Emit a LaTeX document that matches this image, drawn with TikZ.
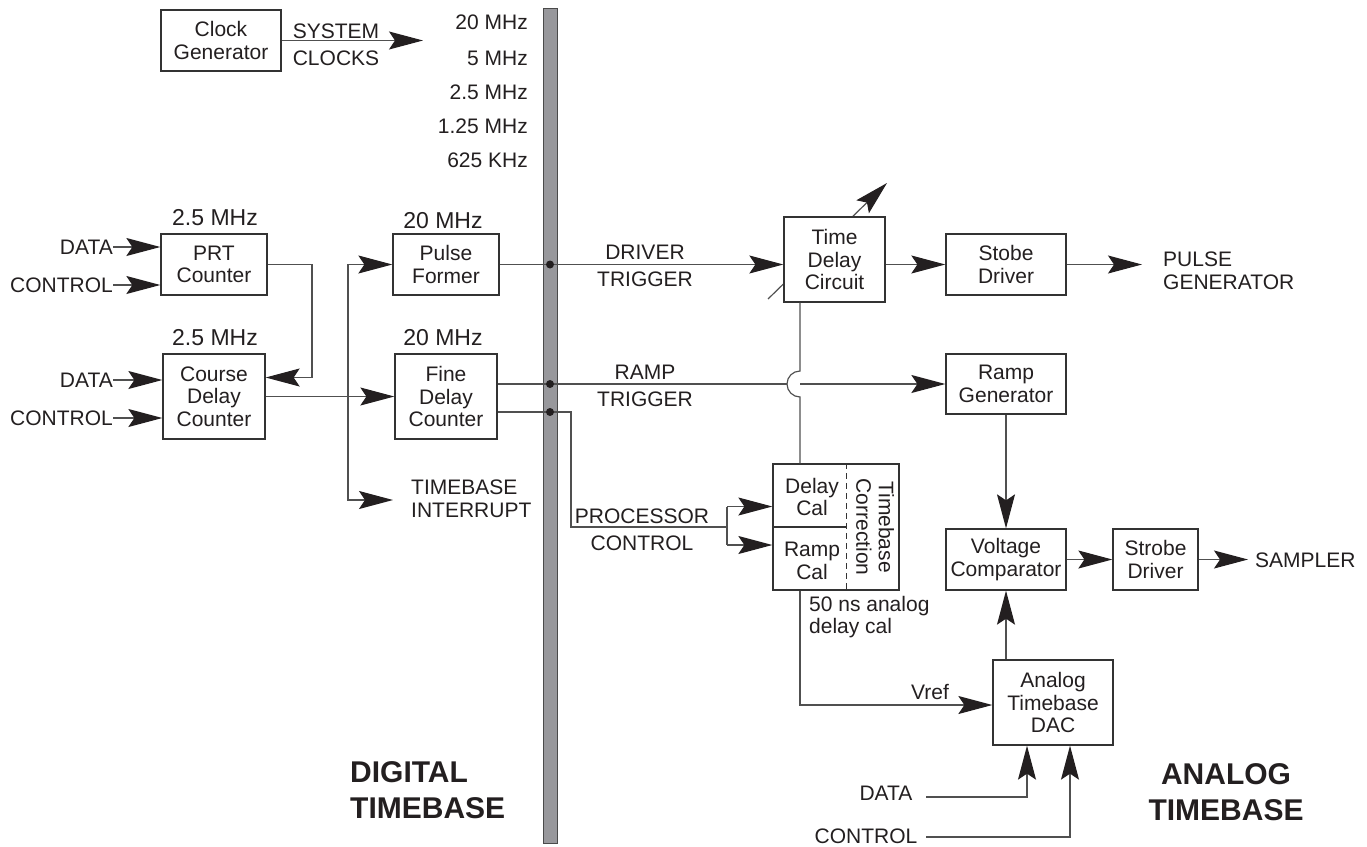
\documentclass[tikz,border=0pt]{standalone}
\usepackage{fontspec}
\setmainfont{Liberation Sans}
\usetikzlibrary{arrows.meta,calc}
\definecolor{linec}{HTML}{505050}
\definecolor{boxc}{HTML}{333333}
\definecolor{txtc}{HTML}{231F20}
\definecolor{barc}{HTML}{98989C}
\definecolor{barline}{HTML}{4A4A4A}
\newcommand{\fnorm}{\fontsize{21}{22.5}\selectfont}
\newcommand{\fbigl}{\fontsize{23}{26}\selectfont}
\newcommand{\fboldl}{\fontsize{30}{36.5}\selectfont\bfseries}
\begin{document}
\begin{tikzpicture}[x=1pt,y=-1pt,
  line/.style={draw=linec, line width=1.2pt},
  arr/.style={line, -{Stealth[length=34pt,width=18pt,inset=6pt,color=txtc]}},
  blk/.style={draw=boxc, line width=1.3pt, fill=white, align=center, inner sep=0pt, font=\fnorm, text=txtc},
  lbl/.style={align=center, inner sep=0pt, font=\fnorm, text=txtc},
  biglbl/.style={align=center, inner sep=0pt, font=\fbigl, text=txtc},
  boldlbl/.style={inner sep=0pt, font=\fboldl, text=txtc},
  jdot/.style={fill=txtc}
]
\useasboundingbox (0,0) rectangle (1367,846);

% bus bar
\node[draw=barline, fill=barc, line width=1pt, minimum width=14pt, minimum height=835pt, inner sep=0pt] (bar) at (550,425.5) {};

% clock generator
\node[blk, minimum width=120pt, minimum height=61pt] (clk) at (221,40.5) {Clock\\Generator};
\coordinate (clkend) at (423,40.5);
\draw[arr] (clk.east) -- (clkend);
\node[lbl] (sys) at (336,31) {SYSTEM};
\node[lbl] (clks) at (336,58) {CLOCKS};
\node[lbl, anchor=east] (f1) at (528,22) {20 MHz};
\node[lbl, anchor=east] (f2) at (528,58) {5 MHz};
\node[lbl, anchor=east] (f3) at (528,92) {2.5 MHz};
\node[lbl, anchor=east] (f4) at (528,126) {1.25 MHz};
\node[lbl, anchor=east] (f5) at (528,160) {625 KHz};

% left counters
\node[blk, minimum width=106pt, minimum height=61pt] (prt) at (214,264.5) {PRT\\Counter};
\node[biglbl] (prtf) at (215,218) {2.5 MHz};
\node[blk, minimum width=102pt, minimum height=85pt] (cdc) at (214,396.5) {Course\\Delay\\Counter};
\node[biglbl] (cdcf) at (215,338) {2.5 MHz};
\node[lbl, anchor=east] (dat1) at (113,247) {DATA};
\node[lbl, anchor=east] (ctl1) at (113,285) {CONTROL};
\node[lbl, anchor=east] (dat2) at (113,380) {DATA};
\node[lbl, anchor=east] (ctl2) at (113,418) {CONTROL};
\draw[arr] (dat1.east) -- (dat1.east -| prt.west);
\draw[arr] (ctl1.east) -- (ctl1.east -| prt.west);
\draw[arr] (dat2.east) -- (dat2.east -| cdc.west);
\draw[arr] (ctl2.east) -- (ctl2.east -| cdc.west);

\coordinate (fb) at (312,377.5);
\draw[arr] (prt.east) -| (fb) -- (fb -| cdc.east);

% pulse former, fine delay
\node[blk, minimum width=106pt, minimum height=61pt] (pf) at (446,264.5) {Pulse\\Former};
\node[biglbl] (pff) at (443,221) {20 MHz};
\node[blk, minimum width=102pt, minimum height=85pt] (fdc) at (446,396.5) {Fine\\Delay\\Counter};
\node[biglbl] (fdcf) at (443,338) {20 MHz};
\draw[arr] (cdc.east) -- (fdc.west);
\coordinate (br) at (348,396.5);
\coordinate (ti) at (393,500);
\draw[arr] (br) |- (pf.west);
\draw[arr] (br) |- (ti);
\node[lbl, anchor=west, align=left] (tint) at (411,499) {TIMEBASE\\INTERRUPT};

% variable arrow behind time delay circuit
\coordinate (va) at (768,299);
\coordinate (vb) at (887,183);
\draw[arr] (va) -- (vb);

% right blocks
\node[blk, minimum width=101pt, minimum height=85pt] (tdc) at (834.5,259.5) {Time\\Delay\\Circuit};
\node[blk, minimum width=120pt, minimum height=61pt] (sd1) at (1006,264.5) {Stobe\\Driver};
\node[blk, minimum width=120pt, minimum height=60pt] (rg) at (1006,384) {Ramp\\Generator};
\node[draw=boxc, line width=1.3pt, fill=white, minimum width=126pt, minimum height=126pt, inner sep=0pt] (tbc) at (836,527) {};
\node[blk, minimum width=120pt, minimum height=61pt] (vc) at (1006,559.5) {Voltage\\Comparator};
\node[blk, minimum width=85pt, minimum height=61pt] (sd2) at (1155.5,559.5) {Strobe\\Driver};
\node[blk, minimum width=120pt, minimum height=85pt] (dac) at (1053,702.5) {Analog\\Timebase\\DAC};

% timebase correction interior
\draw[boxc, line width=1.1pt, dash pattern=on 6pt off 4pt] ($(tbc.north west)+(74,0)$) -- ($(tbc.south west)+(74,0)$);
\draw[boxc, line width=1.1pt] (tbc.west) -- ($(tbc.west)+(74,0)$);
\node[lbl] (dcl) at (812,497) {Delay\\Cal};
\node[lbl] (rcl) at (812,561) {Ramp\\Cal};
\node[lbl, rotate=-90] (tbct) at (875,527) {Timebase\\Correction};

% driver trigger
\draw[arr] (pf.east) -- (pf.east -| tdc.west);
\fill[jdot] (pf.east -| bar.center) circle (4);
\node[lbl] (drv) at (645,252) {DRIVER};
\node[lbl] (drvt) at (645,279) {TRIGGER};
\draw[arr] (tdc.east |- sd1.west) -- (sd1.west);
\coordinate (pg) at (1142,264.5);
\draw[arr] (sd1.east) -- (pg);
\node[lbl, anchor=west, align=left] (pgl) at (1163,271) {PULSE\\GENERATOR};

% ramp trigger with jump
\coordinate (vx) at (800,0);
\coordinate (jt) at (800,371);
\coordinate (jl) at (787,384);
\coordinate (jr) at (800,384);
\draw[line] (fdc.east |- rg.west) -- (jl);
\draw[arr] (jr) -- (rg.west);
\fill[jdot] (rg.west -| bar.center) circle (4);
\node[lbl] (rmp) at (645,372) {RAMP};
\node[lbl] (rmpt) at (645,399) {TRIGGER};
\draw[line] (tdc.south -| vx) -- (jt) arc[start angle=-90, end angle=-270, radius=13] -- (tbc.north -| vx);

% processor control
\coordinate (fo2) at ($(fdc.east)+(0,15.5)$);
\coordinate (pcA) at (571,527);
\coordinate (pcB) at (727,527);
\coordinate (dcal) at (727,506.5);
\coordinate (rcal) at (727,545);
\draw[line] (fo2) -| (pcA) -- (pcB);
\fill[jdot] (fo2 -| bar.center) circle (4);
\draw[line] (dcal) -- (rcal);
\draw[arr] (dcal) -- (dcal -| tbc.west);
\draw[arr] (rcal) -- (rcal -| tbc.west);
\node[lbl] (proc) at (642,516) {PROCESSOR};
\node[lbl] (procc) at (642,543) {CONTROL};

% vref
\coordinate (vrb) at (800,705);
\draw[arr] (tbc.south -| vx) -- (vrb) -- (vrb -| dac.west);
\node[lbl] (vref) at (930,692) {Vref};
\node[lbl, anchor=west, align=left] (ns) at (809,617) {50 ns analog\\delay cal};

% analog chain
\draw[arr] (rg.south) -- (vc.north);
\draw[arr] (dac.north -| vc.south) -- (vc.south);
\draw[arr] (vc.east) -- (sd2.west);
\coordinate (smp) at (1248,559.5);
\draw[arr] (sd2.east) -- (smp);
\node[lbl, anchor=west] (smpl) at (1255,560) {SAMPLER};

% DAC inputs
\node[lbl] (dat3) at (886,793) {DATA};
\node[lbl] (ctl3) at (866,836) {CONTROL};
\coordinate (d3a) at (926,797);
\coordinate (d3b) at (1027,797);
\coordinate (c3a) at (926,837);
\coordinate (c3b) at (1070,837);
\draw[arr] (d3a) -- (d3b) -- (d3b |- dac.south);
\draw[arr] (c3a) -- (c3b) -- (c3b |- dac.south);

% section titles
\node[boldlbl, anchor=west, align=left] (dig) at (350,790) {DIGITAL\\TIMEBASE};
\node[boldlbl, align=center] (ana) at (1226,792) {ANALOG\\TIMEBASE};
\end{tikzpicture}
\end{document}
